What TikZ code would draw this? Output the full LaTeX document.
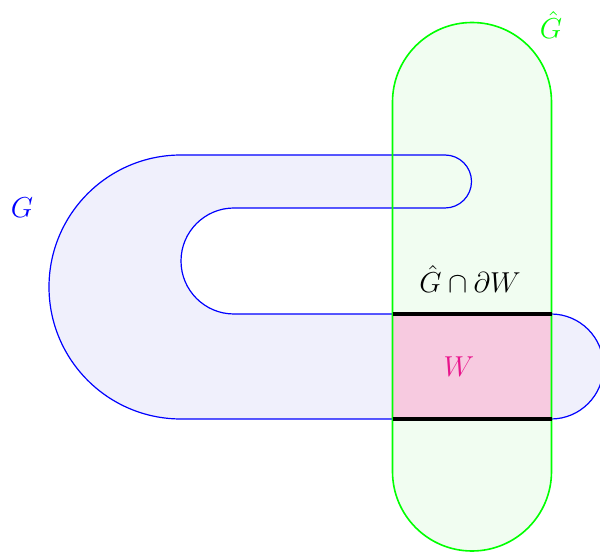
\documentclass[tikz,border=0pt]{standalone}
\usepackage{xcolor}
\usetikzlibrary{calc}
\definecolor{gfill}{RGB}{240,240,252}
\definecolor{hfill}{RGB}{241,253,241}
\definecolor{wfill}{RGB}{247,202,224}
\definecolor{wtext}{RGB}{233,20,140}

\begin{document}
\begin{tikzpicture}[x=0.5pt, y=0.5pt,
  gline/.style={draw=blue, line width=0.6pt},
  hline/.style={draw=green, line width=0.8pt},
  bdry/.style={line width=2pt, black},
  every node/.style={font=\Large}]
  \useasboundingbox (0,0) rectangle (600,552);
  \def\gpath{(181,397) -- (445,397) arc[start angle=90, end angle=-90, radius=26.5] -- (234,344) arc[start angle=90, end angle=270, radius=53] -- (551,238) arc[start angle=90, end angle=-90, radius=52.5] -- (181,133) arc[start angle=270, end angle=90, radius=132] -- cycle}
  \def\hpath{(392.5,450) -- (392.5,80.5) arc[start angle=180, end angle=360, radius=79.5] -- (551.5,450) arc[start angle=0, end angle=180, radius=79.5] -- cycle}
  \fill[gfill] \gpath;
  \fill[hfill] \hpath;
  \coordinate (wsw) at (392.5,133);
  \coordinate (wse) at (551.5,133);
  \coordinate (wnw) at (392.5,238);
  \coordinate (wne) at (551.5,238);
  \fill[wfill] (wsw) rectangle (wne);
  \path[gline] \gpath;
  \path[hline] \hpath;
  \draw[bdry] (wnw) -- (wne);
  \draw[bdry] (wsw) -- (wse);
  \node[blue] (glabel) at (22,344) {$G$};
  \node[green] (hlabel) at (551,527) {$\hat{G}$};
  \node (cut) at (470,273) {$\hat{G}\cap\partial W$};
  \node[wtext] (wlabel) at (459,185) {$W$};
\end{tikzpicture}
\end{document}
